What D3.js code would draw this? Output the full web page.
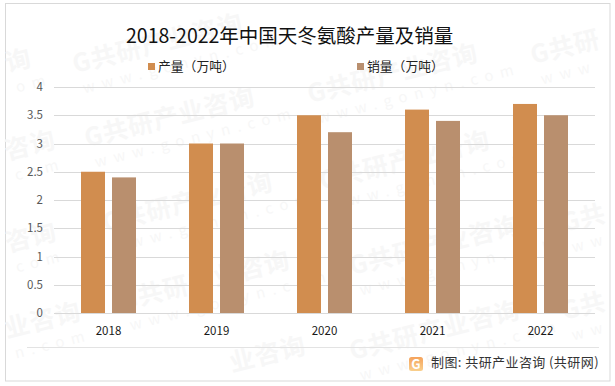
<!DOCTYPE html>
<html>
<head>
<meta charset="utf-8">
<script src="https://cdn.jsdelivr.net/npm/d3@7"></script>
<style>
  html, body { margin: 0; padding: 0; background: #fff; }
  svg { display: block; }
  text { font-family: "Noto Sans CJK SC", "Liberation Sans", sans-serif; }
</style>
</head>
<body>
<div id="chart"></div>
<script>
const years = ["2018", "2019", "2020", "2021", "2022"];
const seriesNames = ["产量（万吨）", "销量（万吨）"];
const output = [2.5, 3, 3.5, 3.6, 3.7];
const sales = [2.4, 3, 3.2, 3.4, 3.5];
const yTicks = [0, 0.5, 1, 1.5, 2, 2.5, 3, 3.5, 4];
const colors = ["#d18d4f", "#b98f6e"];

// watermark pieces as they show in the picture: x, y, name part, web part
const marks = [
  [75, 73, "G共研产业咨询", "www.gonyn.com"],
  [310, 103, "G共研产业咨询", "www.gonyn.com"],
  [87, 147, "G共研产业咨询", "www.gonyn.com"],
  [322, 190, "G共研产业咨询", "www.gonyn.com"],
  [105, 232, "G共研产业咨询", "www.gonyn.com"],
  [352, 275, "G共研产业咨询", "www.gonyn.com"],
  [122, 310, "G共研产业咨询", "www.gonyn.com"],
  [352, 360, "G共研产业咨询", "www.gonyn.com"],
  [533, 64, "G共研", "www"],
  [564, 232, "G共", "ww"],
  [564, 320, "G共", "ww"],
  [232, 372, "业咨询", ""],
  [8, 72, "询", "om"],
  [7, 160, "咨询", "com"],
  [8, 252, "咨询", "com"],
  [7, 338, "业咨询", "n.com"]
];

const W = 615, H = 386;
const margin = { top: 87, right: 20, bottom: 73, left: 54 };
const width = W - margin.left - margin.right,
      height = H - margin.top - margin.bottom;

const root = d3.select("#chart").append("svg")
  .attr("width", W)
  .attr("height", H);

// Outer frame
root.append("rect")
  .attr("x", 5.5).attr("y", 3.5)
  .attr("width", 604.5).attr("height", 377.5)
  .attr("fill", "#fff")
  .attr("stroke", "#d9d9d9");

// Watermark
const wm = root.selectAll("g.wm")
  .data(marks)
  .join("g")
    .attr("class", "wm")
    .attr("transform", d => `translate(${d[0]},${d[1]}) rotate(-14)`);

wm.append("text")
  .text(d => d[2])
  .attr("font-size", 25)
  .attr("font-weight", 700)
  .attr("letter-spacing", 1)
  .attr("fill", "#f7f7f7");

wm.append("text")
  .attr("x", 4)
  .attr("y", 22)
  .text(d => d[3])
  .attr("font-size", 15)
  .attr("letter-spacing", 7)
  .attr("fill", "#f7f7f7");

const svg = root.append("g")
  .attr("transform", `translate(${margin.left},${margin.top})`);

const x0 = d3.scaleBand().domain(years).range([0.5, width - 0.5]);
const x1 = d3.scaleBand()
  .domain([0, 1])
  .range([x0.bandwidth() / 2 - 27.5, x0.bandwidth() / 2 + 27.5])
  .paddingInner(7 / 31);
const y = d3.scaleLinear().domain([0, 4]).range([height, 0]);

// Gridlines
svg.append("g")
  .selectAll("line")
  .data(yTicks)
  .join("line")
    .attr("x1", 0)
    .attr("x2", width)
    .attr("y1", d => Math.round(y(d)) + 0.5)
    .attr("y2", d => Math.round(y(d)) + 0.5)
    .attr("stroke", "#d9d9d9");

// Axes
const yAxis = svg.append("g")
  .call(d3.axisLeft(y).tickValues(yTicks).tickSize(0).tickPadding(11).tickFormat(d => d));
yAxis.select(".domain").remove();
yAxis.selectAll("text").attr("font-size", 11.5).attr("fill", "#595959");

const xAxis = svg.append("g")
  .attr("transform", `translate(0,${height})`)
  .call(d3.axisBottom(x0).tickSize(0).tickPadding(14));
xAxis.select(".domain").remove();
xAxis.selectAll("text").attr("font-size", 11.5).attr("fill", "#1a1a1a");

// Bars
[output, sales].forEach((values, s) => {
  svg.append("g")
    .selectAll("rect")
    .data(values)
    .join("rect")
      .attr("x", (d, i) => x0(years[i]) + x1(s))
      .attr("y", d => y(d))
      .attr("width", x1.bandwidth())
      .attr("height", d => height - y(d))
      .attr("fill", colors[s]);
});

// Title
root.append("text")
  .attr("x", 126)
  .attr("y", 43)
  .text("2018-2022年中国天冬氨酸产量及销量")
  .attr("font-size", 19.5)
  .attr("fill", "#111");

// Legend
const legend = root.selectAll(".legend")
  .data(seriesNames)
  .join("g")
    .attr("class", "legend")
    .attr("transform", (d, i) => `translate(${148 + i * 209},63)`);

legend.append("rect")
  .attr("width", 7)
  .attr("height", 7)
  .attr("fill", (d, i) => colors[i]);

legend.append("text")
  .attr("x", 10)
  .attr("y", 8)
  .text(d => d)
  .attr("font-size", 12.8)
  .attr("fill", "#222");

// Footer
root.append("line")
  .attr("x1", 27).attr("x2", 599)
  .attr("y1", 347.5).attr("y2", 347.5)
  .attr("stroke", "#e3e3e3");

const grad = root.append("defs").append("linearGradient")
  .attr("id", "logoFill")
  .attr("x1", 0).attr("y1", 0).attr("x2", 0).attr("y2", 1);
grad.append("stop").attr("offset", 0).attr("stop-color", "#f5a35c");
grad.append("stop").attr("offset", 1).attr("stop-color", "#f9cf8c");

const logo = root.append("g").attr("transform", "translate(409,357)");
logo.append("rect")
  .attr("width", 14).attr("height", 14).attr("rx", 2.5)
  .attr("fill", "url(#logoFill)");
logo.append("text")
  .attr("x", 7).attr("y", 12)
  .attr("text-anchor", "middle")
  .text("G")
  .attr("font-size", 13)
  .attr("font-weight", 700)
  .attr("fill", "#fff");

root.append("text")
  .attr("x", 431)
  .attr("y", 367)
  .text("制图: 共研产业咨询 (共研网)")
  .attr("font-size", 13)
  .attr("letter-spacing", 0.42)
  .attr("fill", "#333");
</script>
</body>
</html>
